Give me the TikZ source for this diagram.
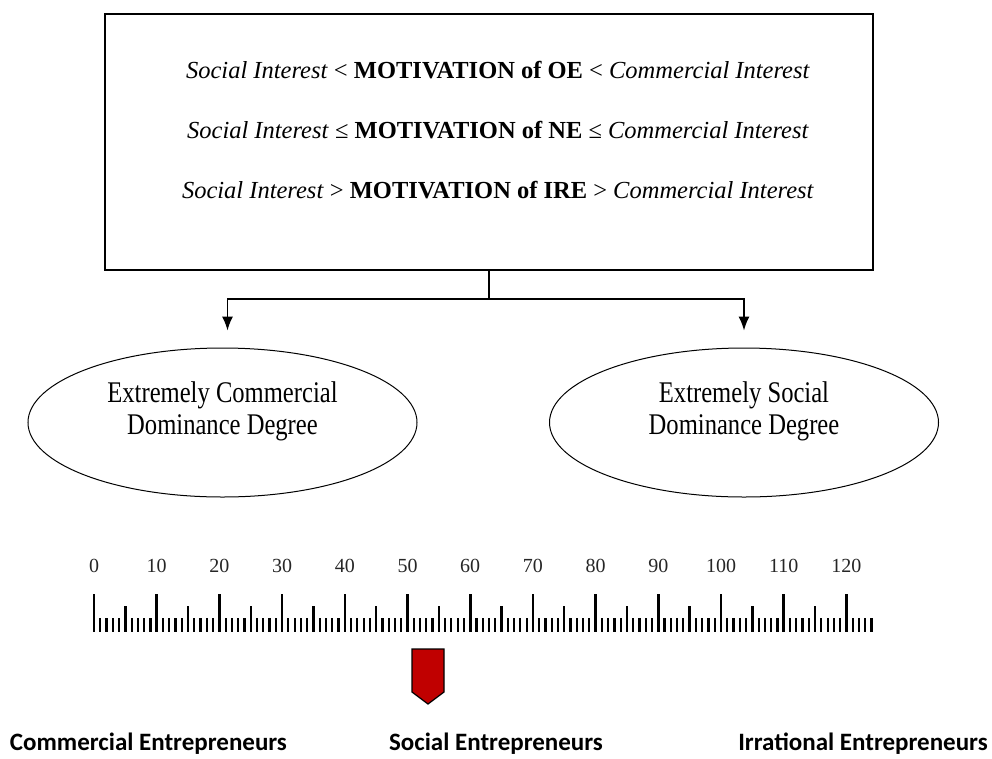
\documentclass[tikz,border=0pt]{standalone}
\usepackage{fontspec}
\setmainfont{Liberation Serif}
\newfontfamily\ellfont[FakeStretch=0.82]{Liberation Serif}
\newfontfamily\entfont{Carlito}
\usetikzlibrary{shapes.geometric,arrows.meta}
\definecolor{markred}{RGB}{192,0,0}

\begin{document}
\begin{tikzpicture}[x=1pt,y=-1pt,
    dom/.style={draw, ellipse, line width=1pt, minimum width=389pt, minimum height=149pt},
    domtext/.style={align=center, font=\ellfont\fontsize{30}{32}\selectfont},
    arr/.style={-{Latex[length=14pt,width=11pt]}, line width=1.4pt, shorten >=17pt},
    num/.style={font=\fontsize{20}{24}\selectfont, text=black!85},
    entlab/.style={anchor=base, font=\entfont\bfseries\fontsize{25}{30}\selectfont}]
    \useasboundingbox (0,0) rectangle (992,758);

    % 动机框
    \node[draw, rectangle, line width=1.6pt, minimum width=768pt, minimum height=256pt] (box) at (489,142) {};
    \node[align=center, font=\fontsize{24.5}{60}\selectfont] (motiv) at (498,130)
      {\textit{Social Interest} < \textbf{MOTIVATION of OE} < \textit{Commercial Interest}\\
       \textit{Social Interest} ≤ \textbf{MOTIVATION of NE} ≤ \textit{Commercial Interest}\\
       \textit{Social Interest} > \textbf{MOTIVATION of IRE} > \textit{Commercial Interest}};

    % 两个椭圆
    \node[dom] (comm) at (222.5,422.5) {};
    \node[domtext] (commtxt) at ([yshift=11.5pt]comm.center) {Extremely Commercial\\Dominance Degree};
    \node[dom] (soc) at (744,422.5) {};
    \node[domtext] (soctxt) at ([yshift=11.5pt]soc.center) {Extremely Social\\Dominance Degree};

    % 分叉箭头
    \coordinate (split) at (489,299);
    \draw[line width=1.4pt] (box.south) -- (split);
    \draw[arr] (split) -| ([xshift=5pt]comm.north);
    \draw[arr] (split) -| (soc.north);

    % 刻度尺
    \foreach \i in {0,...,124}{
      \pgfmathtruncatemacro\tickm{mod(\i,10)}
      \pgfmathtruncatemacro\tickf{mod(\i,5)}
      \ifnum\tickm=0 \def\ticktop{594}\def\tickw{2.6pt}
      \else\ifnum\tickf=0 \def\ticktop{606}\def\tickw{2.4pt}
      \else \def\ticktop{618}\def\tickw{2.2pt}\fi\fi
      \draw[line width=\tickw] (94+6.27*\i,\ticktop) -- (94+6.27*\i,632);
    }
    \foreach \n in {0,10,...,120}
      \node[num] (n\n) at (94+6.27*\n,566) {\n};

    % 标记
    \draw[fill=markred, line width=1.2pt] (412,649) -- (444,649) -- (444,692) -- (428,704) -- (412,692) -- cycle;

    % 底部标签
    \node[entlab] (comment) at (148.5,750) {Commercial Entrepreneurs};
    \node[entlab] (socent) at (496,750) {Social Entrepreneurs};
    \node[entlab] (irrent) at (863,750) {Irrational Entrepreneurs};
\end{tikzpicture}
\end{document}
